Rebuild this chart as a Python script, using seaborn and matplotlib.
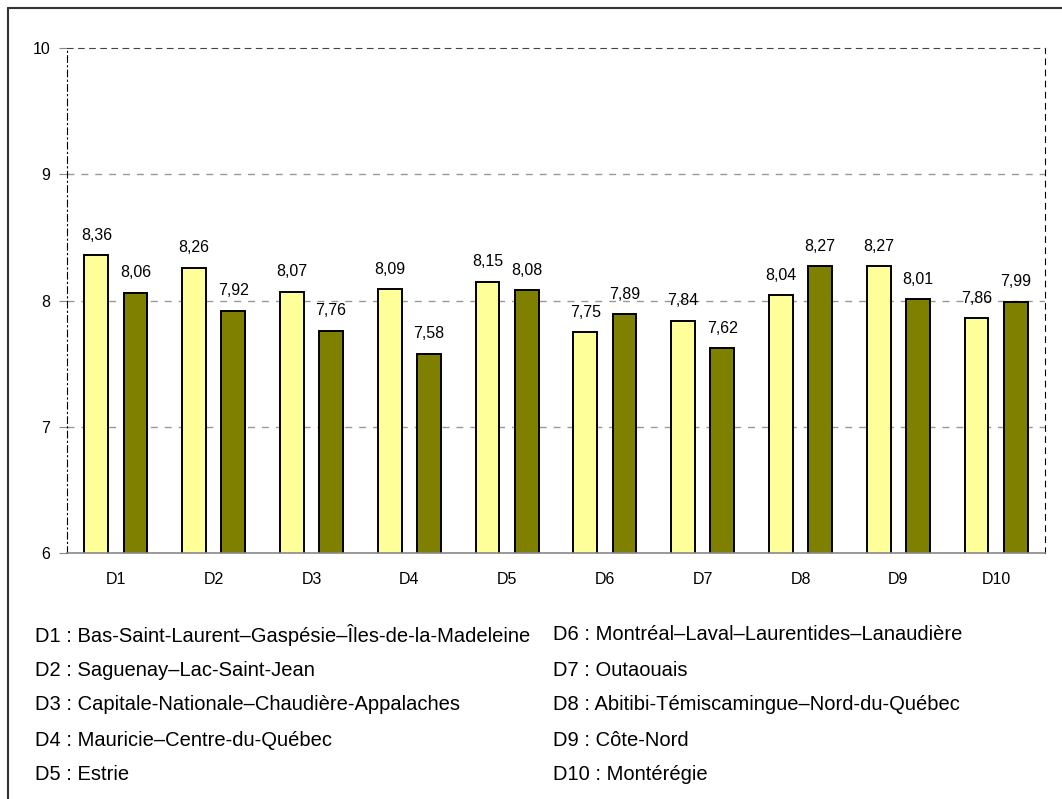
import pandas as pd
import matplotlib.pyplot as plt
import matplotlib.lines as mlines
import seaborn as sns

# data
regions = ["D1", "D2", "D3", "D4", "D5", "D6", "D7", "D8", "D9", "D10"]
serie_1 = [8.36, 8.26, 8.07, 8.09, 8.15, 7.75, 7.84, 8.04, 8.27, 7.86]
serie_2 = [8.06, 7.92, 7.76, 7.58, 8.08, 7.89, 7.62, 8.27, 8.01, 7.99]
series_names = ["Série 1", "Série 2"]
legend_left = [
    "D1 : Bas-Saint-Laurent–Gaspésie–Îles-de-la-Madeleine",
    "D2 : Saguenay–Lac-Saint-Jean",
    "D3 : Capitale-Nationale–Chaudière-Appalaches",
    "D4 : Mauricie–Centre-du-Québec",
    "D5 : Estrie",
]
legend_right = [
    "D6 : Montréal–Laval–Laurentides–Lanaudière",
    "D7 : Outaouais",
    "D8 : Abitibi-Témiscamingue–Nord-du-Québec",
    "D9 : Côte-Nord",
    "D10 : Montérégie",
]

df = pd.DataFrame({
    "Region": regions * 2,
    "Serie": [series_names[0]] * len(regions) + [series_names[1]] * len(regions),
    "Valeur": serie_1 + serie_2,
})

sns.set_style("white")
plt.rcParams["font.family"] = ["Liberation Sans", "DejaVu Sans"]
plt.rcParams["text.color"] = "black"
plt.rcParams["xtick.labelcolor"] = "black"
plt.rcParams["ytick.labelcolor"] = "black"

fig = plt.figure(figsize=(10.62, 7.99), dpi=100)
ax = fig.add_axes([0.0631, 0.3079, 0.9209, 0.6320])

sns.barplot(data=df, x="Region", y="Valeur", hue="Serie", order=regions,
            hue_order=series_names, palette=["#FFFF99", "#808000"],
            saturation=1, width=0.8, gap=0.39, edgecolor="black",
            linewidth=1.4, legend=False, ax=ax)

# value labels with comma decimal
for cont in ax.containers:
    labels = [f"{b.get_height():.2f}".replace(".", ",") for b in cont]
    ax.bar_label(cont, labels=labels, padding=9, fontsize=11.5, color="black")

ax.set_ylim(6, 10)
ax.set_xlim(-0.5, len(regions) - 0.5)
ax.set_yticks([6, 7, 8, 9, 10])
ax.set_yticklabels(["6", "7", "8", "9", "10"])
ax.set_xlabel("")
ax.set_ylabel("")

# gridlines
for v in [7, 8, 9]:
    ax.axhline(v, color="#999999", linestyle=(0, (5, 5)), linewidth=1, zorder=0)

# spines
ax.spines["bottom"].set_color("#888888")
ax.spines["bottom"].set_linewidth(1.2)
ax.spines["top"].set_color("#444444")
ax.spines["top"].set_linestyle((0, (5, 5)))
ax.spines["left"].set_color("black")
ax.spines["left"].set_linestyle((0, (6, 3, 1, 3)))
ax.spines["right"].set_color("black")
ax.spines["right"].set_linestyle((0, (5, 5)))
for s in ax.spines.values():
    s.set_visible(True)

# ticks
ax.set_xticks([i - 0.5 for i in range(len(regions) + 1)], minor=True)
ax.tick_params(axis="x", which="major", length=0, labelsize=11.5, pad=14)
ax.tick_params(axis="x", which="minor", length=6, color="#888888", direction="out")
ax.tick_params(axis="y", length=6, color="#888888", labelsize=11.5, pad=6, left=True)

# region legend below the chart
for i, (a, b) in enumerate(zip(legend_left, legend_right)):
    y = 1 - (635 + 35 * i) / 799
    fig.text(35 / 1062, y, a, fontsize=14.5, va="center", ha="left")
    fig.text(553 / 1062, y, b, fontsize=14.5, va="center", ha="left")

# outer frame (top and left only, as in the reference)
fig.add_artist(mlines.Line2D([8 / 1062, 1], [1 - 8 / 799, 1 - 8 / 799], color="#333333", linewidth=1.5))
fig.add_artist(mlines.Line2D([8 / 1062, 8 / 1062], [0, 1 - 8 / 799], color="#333333", linewidth=1.5))

fig.savefig("out.png", dpi=100)
